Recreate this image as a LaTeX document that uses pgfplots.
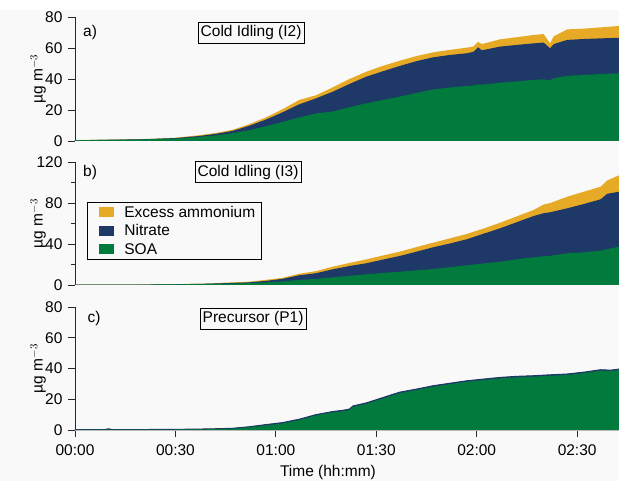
\documentclass[border=0pt]{standalone}
\usepackage{fontspec}
\setmainfont{Liberation Sans}
\usepackage{pgfplots}
\pgfplotsset{compat=1.18}
\usepackage{pgfplotstable}

\definecolor{cam}{RGB}{231,170,38}
\definecolor{cno}{RGB}{30,56,104}
\definecolor{csoa}{RGB}{0,122,61}
\definecolor{axc}{RGB}{40,40,40}

% t (min), SOA top, nitrate top, total (excess ammonium top)
\pgfplotstableread{
t soa no tot
0 0.5 0.5 0.6
10 0.7 0.8 0.9
20 1.0 1.1 1.2
30 1.6 1.9 2.1
37 2.6 3.2 3.7
42 3.6 4.6 5.2
47 5.0 6.5 7.2
52 7.0 9.8 10.8
57 9.5 13.8 15.2
62 12.3 18.5 20.5
67 15.2 23.7 26.5
72 17.8 27.5 29.5
77 19.0 31.8 34.6
82 21.8 36.8 40.0
87 24.3 41.5 44.7
92 26.5 45.0 48.5
97 28.6 48.4 51.8
102 31.0 51.5 54.8
107 33.3 54.0 57.2
112 34.5 55.5 58.8
117 35.5 56.6 60.2
119 35.8 57.5 61.0
120.4 36.5 60.5 64.0
121.5 36.3 58.5 62.5
127 37.6 60.9 65.6
132 38.5 62.0 67.0
137 39.4 63.0 68.4
140 39.8 63.5 69.0
141.9 39.0 59.8 63.0
143 40.5 62.5 67.5
147 42.0 65.2 72.0
152 42.6 65.8 72.5
157 43.2 66.2 73.3
162.5 43.7 66.6 74.2
}\tabA

\pgfplotstableread{
t soa no tot
0 0.3 0.3 0.3
20 0.4 0.4 0.5
30 0.6 0.7 0.8
40 1.0 1.3 1.5
47 1.4 2.0 2.6
52 1.8 2.6 3.2
57 2.6 4.0 5.0
62 3.5 6.0 7.0
67 5.0 9.5 11.0
72 6.0 11.5 13.5
77 7.5 15.3 17.9
82 9.0 18.5 21.5
87 10.4 21.2 25.0
92 11.8 24.8 28.8
97 13.0 28.3 32.5
102 14.3 32.5 37.0
107 15.6 36.8 41.3
112 17.4 40.5 45.5
117 19.2 44.6 49.8
122 21.0 50.0 55.0
127 22.7 55.3 60.8
132 25.0 61.3 67.0
137 27.0 67.3 73.2
140 28.0 70.0 78.5
142 28.5 71.0 80.0
147 30.9 74.8 86.1
152 32.0 79.0 91.0
157 33.5 83.6 95.9
159 35.0 89.0 102.0
162.5 37.4 91.0 107.0
}\tabB

\pgfplotstableread{
t soa no tot
0 0.1 0.2 0.2
9 0.2 0.3 0.3
10 0.4 0.8 0.8
11 0.2 0.3 0.3
20 0.2 0.3 0.3
30 0.3 0.4 0.4
40 0.5 0.7 0.7
47 0.8 1.1 1.1
52 1.7 2.1 2.1
57 3.0 3.5 3.5
62 4.3 4.8 4.8
67 6.5 7.0 7.0
72 9.5 10.0 10.0
77 11.5 12.0 12.0
80 12.3 12.8 12.8
82 13.0 13.6 13.6
83 15.0 15.6 15.6
87 17.0 17.6 17.6
92 20.5 21.1 21.1
97 24.0 24.6 24.6
102 26.0 26.6 26.6
107 28.2 28.8 28.8
112 29.8 30.4 30.4
117 31.4 32.0 32.0
122 32.5 33.1 33.1
127 33.6 34.2 34.2
132 34.3 34.9 34.9
137 34.7 35.3 35.3
142 35.3 35.9 35.9
147 35.8 36.4 36.4
152 37.0 37.6 37.6
157 38.6 39.2 39.2
160 38.3 38.9 38.9
162.5 39.0 39.6 39.6
}\tabC

\newcommand{\fs}{\fontsize{15.5}{17}\selectfont}

\tikzset{boxlab/.style={draw=black, line width=0.8pt, inner xsep=2.5pt, inner ysep=3.5pt, font=\fs}}

\pgfplotsset{
  panel/.style={
    scale only axis, width=544pt, anchor=south west,
    xmin=0, xmax=162.5, ymin=0,
    axis y line*=left,
    axis line style={draw=axc, line width=0.9pt},
    tick style={draw=axc, line width=0.9pt},
    tick align=outside,
    major tick length=7pt, minor tick length=4pt,
    ylabel={µg m$^{-3}$},
    ylabel style={at={(axis description cs:-0.068,0.5)}, anchor=center, font=\fs},
    tick label style={font=\fs},
    yticklabel style={xshift=-2pt},
    /pgf/number format/assume math mode=true,
    clip=true,
  },
}

\begin{document}
\begin{tikzpicture}
\path[use as bounding box] (0,0) rectangle (619pt,481pt);
\fill[black!2.5] (0,0) rectangle (619pt,471pt);

% Panel a
\begin{axis}[panel, at={(75pt,340pt)}, height=124pt, ymax=80,
  ytick={0,20,40,60,80}, axis x line=none]
\addplot[draw=none, fill=cam] table[x=t,y=tot] {\tabA} \closedcycle;
\addplot[draw=none, fill=cno] table[x=t,y=no] {\tabA} \closedcycle;
\addplot[draw=none, fill=csoa] table[x=t,y=soa] {\tabA} \closedcycle;
\addplot[draw=csoa!55, line width=0.8pt] coordinates {(0,0) (162.5,0)};
\node[font=\fs] at (axis cs:4.5,69.7) {a)};
\node[boxlab] at (axis cs:52.6,69.7) {Cold Idling (I2)};
\end{axis}

% Panel b
\begin{axis}[panel, at={(75pt,196pt)}, height=123pt, ymax=120,
  ytick={0,40,80,120}, minor ytick={20,60,100}, axis x line=none,
  legend style={at={(rel axis cs:0.022,0.675)}, anchor=north west,
    draw=black, line width=0.8pt, fill=none, font=\fs,
    inner xsep=4pt, inner ysep=1.5pt, row sep=2pt},
  legend cell align=left,
  legend image code/.code={\path (0pt,0pt); \fill[#1] (8pt,-5pt) rectangle (23pt,5pt); \path (31pt,0pt);}]
\addplot[draw=none, fill=cam] table[x=t,y=tot] {\tabB} \closedcycle;
\addlegendentry{Excess ammonium}
\addplot[draw=none, fill=cno] table[x=t,y=no] {\tabB} \closedcycle;
\addlegendentry{Nitrate}
\addplot[draw=none, fill=csoa] table[x=t,y=soa] {\tabB} \closedcycle;
\addlegendentry{SOA}
\addplot[draw=csoa!55, line width=0.8pt, forget plot] coordinates {(0,0) (162.5,0)};
\node[font=\fs] at (axis cs:4.5,109.3) {b)};
\node[boxlab] at (axis cs:51.7,110.2) {Cold Idling (I3)};
\end{axis}

% Panel c
\begin{axis}[panel, at={(75pt,51pt)}, height=123pt, ymax=80,
  ytick={0,20,40,60,80},
  axis x line*=bottom,
  x axis line style={draw=gray!55, line width=0.8pt},
  xtick={0,30,60,90,120,150},
  xticklabels={00:00,00:30,01:00,01:30,02:00,02:30},
  xticklabel style={yshift=-4pt},
  xlabel={Time (hh:mm)},
  xlabel style={at={(axis description cs:0.465,0)}, anchor=center, yshift=-42pt, font=\fs}]
\addplot[draw=none, fill=cam] table[x=t,y=tot] {\tabC} \closedcycle;
\addplot[draw=cno, line width=1pt, fill=cno] table[x=t,y=no] {\tabC} \closedcycle;
\addplot[draw=none, fill=csoa] table[x=t,y=soa] {\tabC} \closedcycle;
\addplot[draw=csoa!55, line width=0.8pt] coordinates {(0,0) (162.5,0)};
\node[font=\fs] at (axis cs:5.7,72.2) {c)};
\node[boxlab] at (axis cs:53.2,72.2) {Precursor (P1)};
\end{axis}
\end{tikzpicture}
\end{document}
